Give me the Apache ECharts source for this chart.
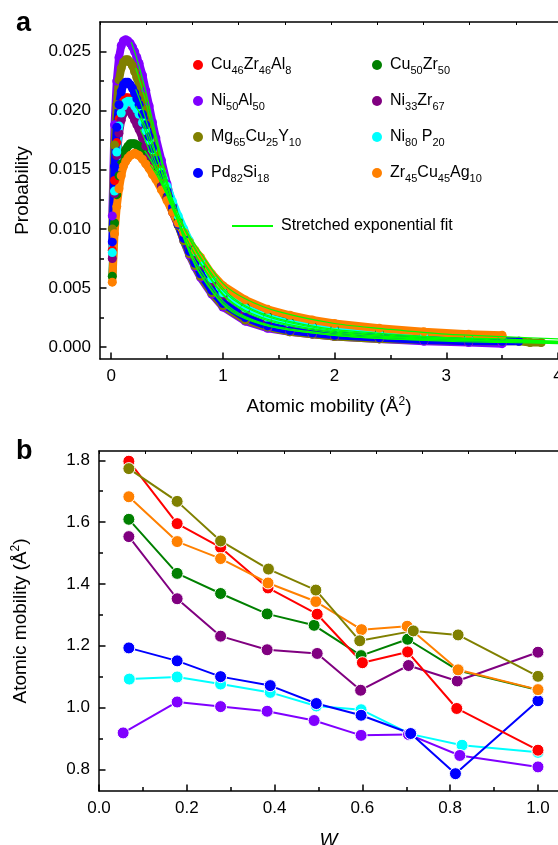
<!DOCTYPE html>
<html>
<head>
<meta charset="utf-8">
<title>Atomic mobility</title>
<script src="https://cdn.jsdelivr.net/npm/echarts@6.0.0/dist/echarts.min.js"></script>
<style>
html,body{margin:0;padding:0;background:#fff;}
#main{width:558px;height:845px;}
</style>
</head>
<body>
<div id="main"></div>
<script>
// ---- panel a : probability vs atomic mobility ----
var mobility = [0.01,0.03,0.05,0.07,0.09,0.11,0.13,0.15,0.17,0.19,0.21,0.23,0.25,0.28,0.31,0.34,0.37,0.40,0.45,0.50,0.55,0.60,0.65,0.70,0.75,0.80,0.90,1.00,1.20,1.40,1.60,1.80,2.00,2.40,2.80,3.20,3.50,3.65,3.75,3.85];
var probCu46Zr46Al8 = [0.0082,0.0141,0.0173,0.0193,0.0203,0.0208,0.0211,0.0211,0.0210,0.0207,0.0203,0.0198,0.0194,0.0187,0.0179,0.0171,0.0162,0.0153,0.0142,0.0130,0.0117,0.0105,0.0094,0.0084,0.0075,0.0067,0.0053,0.0042,0.0029,0.0021,0.0017,0.0014,0.0012,0.0009,0.0007,0.0006,0.0005,null,null,null];
var probNi50Al50 = [0.0111,0.0188,0.0225,0.0245,0.0255,0.0259,0.0260,0.0259,0.0257,0.0254,0.0250,0.0245,0.0240,0.0230,0.0217,0.0204,0.0190,0.0177,0.0158,0.0138,0.0120,0.0104,0.0090,0.0078,0.0068,0.0059,0.0045,0.0034,0.0022,0.0016,0.0013,0.0011,0.0009,0.0007,0.0005,0.0004,0.0003,null,null,null];
var probMg65Cu25Y10 = [0.0100,0.0171,0.0205,0.0226,0.0236,0.0241,0.0243,0.0243,0.0241,0.0238,0.0233,0.0228,0.0222,0.0212,0.0201,0.0189,0.0177,0.0165,0.0150,0.0134,0.0118,0.0103,0.0090,0.0079,0.0069,0.0060,0.0046,0.0035,0.0023,0.0017,0.0013,0.0011,0.0009,0.0007,0.0006,0.0005,0.0005,0.0005,0.0004,0.0004];
var probPd82Si18 = [0.0089,0.0153,0.0186,0.0205,0.0216,0.0222,0.0224,0.0224,0.0222,0.0219,0.0215,0.0210,0.0205,0.0197,0.0188,0.0178,0.0168,0.0158,0.0146,0.0132,0.0118,0.0104,0.0092,0.0081,0.0071,0.0062,0.0048,0.0037,0.0025,0.0018,0.0014,0.0012,0.0010,0.0008,0.0006,0.0005,0.0005,0.0005,null,null];
var probCu50Zr50 = [0.0060,0.0105,0.0129,0.0145,0.0155,0.0163,0.0167,0.0170,0.0172,0.0172,0.0172,0.0171,0.0170,0.0167,0.0163,0.0158,0.0153,0.0147,0.0137,0.0127,0.0117,0.0107,0.0098,0.0089,0.0080,0.0072,0.0058,0.0047,0.0034,0.0026,0.0021,0.0018,0.0015,0.0012,0.0009,0.0008,0.0007,null,null,null];
var probNi33Zr67 = [0.0075,0.0130,0.0162,0.0181,0.0192,0.0198,0.0200,0.0200,0.0199,0.0196,0.0192,0.0188,0.0184,0.0177,0.0170,0.0162,0.0154,0.0146,0.0136,0.0126,0.0114,0.0103,0.0093,0.0084,0.0075,0.0067,0.0054,0.0043,0.0030,0.0022,0.0017,0.0014,0.0012,0.0009,0.0007,0.0006,0.0005,null,null,null];
var probNi80P20 = [0.0080,0.0132,0.0165,0.0187,0.0198,0.0204,0.0207,0.0208,0.0208,0.0207,0.0204,0.0201,0.0197,0.0190,0.0183,0.0175,0.0167,0.0158,0.0148,0.0136,0.0123,0.0111,0.0100,0.0090,0.0081,0.0072,0.0058,0.0046,0.0033,0.0025,0.0020,0.0017,0.0014,0.0011,0.0009,0.0007,0.0006,null,null,null];
var probZr45Cu45Ag10 = [0.0055,0.0096,0.0119,0.0134,0.0145,0.0153,0.0157,0.0160,0.0162,0.0163,0.0164,0.0163,0.0162,0.0159,0.0155,0.0151,0.0146,0.0142,0.0133,0.0124,0.0114,0.0105,0.0097,0.0089,0.0082,0.0076,0.0062,0.0052,0.0040,0.0032,0.0027,0.0023,0.0020,0.0016,0.0013,0.0011,0.0010,null,null,null];

// stretched exponential fits
var fitMobility = [0.18,0.22,0.26,0.30,0.35,0.40,0.50,0.60,0.70,0.80,1.00,1.20,1.50,2.00,2.50,3.00,3.50,4.00,4.40];
var fitCu46Zr46Al8 = [null,null,0.0194,0.0184,0.0170,0.0156,0.0131,0.0107,0.0087,0.0070,0.0044,0.0030,0.0020,0.0012,0.0009,0.0007,0.0005,0.0004,0.0004];
var fitNi50Al50 = [0.0258,0.0247,0.0234,0.0220,0.0200,0.0180,0.0141,0.0106,0.0080,0.0061,0.0036,0.0024,0.0016,0.0010,0.0007,0.0005,0.0004,0.0003,0.0002];
var fitMg65Cu25Y10 = [null,0.0236,0.0224,0.0211,0.0193,0.0175,0.0138,0.0106,0.0081,0.0062,0.0037,0.0025,0.0016,0.0010,0.0007,0.0006,0.0005,0.0004,0.0003];
var fitPd82Si18 = [null,0.0218,0.0208,0.0196,0.0180,0.0164,0.0133,0.0106,0.0083,0.0065,0.0039,0.0026,0.0017,0.0011,0.0008,0.0006,0.0005,0.0004,0.0003];
var fitCu50Zr50 = [null,null,null,0.0166,0.0159,0.0150,0.0130,0.0110,0.0092,0.0076,0.0050,0.0035,0.0024,0.0015,0.0011,0.0008,0.0007,0.0005,0.0005];
var fitNi33Zr67 = [null,null,0.0184,0.0176,0.0164,0.0152,0.0128,0.0106,0.0087,0.0071,0.0045,0.0031,0.0021,0.0013,0.0009,0.0007,0.0005,0.0004,0.0004];
var fitNi80P20 = [null,0.0204,0.0197,0.0188,0.0175,0.0162,0.0137,0.0113,0.0092,0.0075,0.0048,0.0034,0.0023,0.0014,0.0010,0.0008,0.0006,0.0005,0.0004];
var fitZr45Cu45Ag10 = [null,null,null,null,0.0154,0.0147,0.0129,0.0110,0.0094,0.0080,0.0054,0.0041,0.0030,0.0020,0.0015,0.0011,0.0009,0.0007,0.0006];

// ---- panel b : atomic mobility vs W ----
var wCu46Zr46Al8 = [0.068,0.178,0.277,0.385,0.497,0.600,0.703,0.815,1.000];
var amCu46Zr46Al8 = [1.797,1.595,1.518,1.387,1.302,1.145,1.180,0.997,0.862];
var wNi50Al50 = [0.055,0.178,0.277,0.383,0.490,0.597,0.705,0.822,1.000];
var amNi50Al50 = [0.918,1.018,1.003,0.988,0.958,0.910,0.913,0.845,0.808];
var wMg65Cu25Y10 = [0.068,0.178,0.277,0.386,0.494,0.594,0.716,0.818,1.000];
var amMg65Cu25Y10 = [1.773,1.667,1.539,1.448,1.380,1.216,1.248,1.235,1.101];
var wPd82Si18 = [0.068,0.178,0.277,0.390,0.495,0.597,0.710,0.812,1.000];
var amPd82Si18 = [1.193,1.151,1.100,1.071,1.013,0.975,0.916,0.786,1.022];
var wCu50Zr50 = [0.068,0.178,0.277,0.383,0.490,0.597,0.703,0.818,1.000];
var amCu50Zr50 = [1.609,1.434,1.369,1.303,1.266,1.168,1.221,1.120,1.057];
var wNi33Zr67 = [0.068,0.178,0.277,0.383,0.497,0.596,0.705,0.816,1.000];
var amNi33Zr67 = [1.553,1.352,1.231,1.187,1.175,1.056,1.136,1.086,1.179];
var wNi80P20 = [0.069,0.178,0.277,0.390,0.495,0.597,0.710,0.827,1.000];
var amNi80P20 = [1.092,1.099,1.076,1.049,1.005,0.993,0.914,0.878,0.855];
var wZr45Cu45Ag10 = [0.068,0.178,0.277,0.385,0.494,0.598,0.702,0.818,1.000];
var amZr45Cu45Ag10 = [1.682,1.537,1.482,1.403,1.343,1.252,1.263,1.122,1.058];

// ---- ticks ----
var probTicks = [0, 0.005, 0.010, 0.015, 0.020, 0.025];
var probMinorTicks = [0.0025, 0.0075, 0.0125, 0.0175, 0.0225];
var mobilityTicks = [0, 1, 2, 3, 4];
var mobilityMinorTicks = [0.5, 1.5, 2.5, 3.5];
var amTicks = [0.8, 1.0, 1.2, 1.4, 1.6, 1.8];
var amMinorTicks = [0.9, 1.1, 1.3, 1.5, 1.7];
var wTicks = [0, 0.2, 0.4, 0.6, 0.8, 1.0];
var wMinorTicks = [0.1, 0.3, 0.5, 0.7, 0.9];

var FONT = 'Liberation Sans, Arial, Helvetica, sans-serif';
var FIT_NAME = 'Stretched exponential fit';

var alloys = {
	'Cu46Zr46Al8': {color: '#ff0000', prob: probCu46Zr46Al8, fit: fitCu46Zr46Al8, w: wCu46Zr46Al8, am: amCu46Zr46Al8},
	'Ni50Al50': {color: '#8000ff', prob: probNi50Al50, fit: fitNi50Al50, w: wNi50Al50, am: amNi50Al50},
	'Mg65Cu25Y10': {color: '#808000', prob: probMg65Cu25Y10, fit: fitMg65Cu25Y10, w: wMg65Cu25Y10, am: amMg65Cu25Y10},
	'Pd82Si18': {color: '#0000ff', prob: probPd82Si18, fit: fitPd82Si18, w: wPd82Si18, am: amPd82Si18},
	'Cu50Zr50': {color: '#008000', prob: probCu50Zr50, fit: fitCu50Zr50, w: wCu50Zr50, am: amCu50Zr50},
	'Ni33Zr67': {color: '#800080', prob: probNi33Zr67, fit: fitNi33Zr67, w: wNi33Zr67, am: amNi33Zr67},
	'Ni80 P20': {color: '#00ffff', prob: probNi80P20, fit: fitNi80P20, w: wNi80P20, am: amNi80P20},
	'Zr45Cu45Ag10': {color: '#ff8000', prob: probZr45Cu45Ag10, fit: fitZr45Cu45Ag10, w: wZr45Cu45Ag10, am: amZr45Cu45Ag10}
};
var orderA = ['Cu46Zr46Al8','Cu50Zr50','Ni50Al50','Ni33Zr67','Mg65Cu25Y10','Ni80 P20','Pd82Si18','Zr45Cu45Ag10'];
var orderB = ['Ni80 P20','Ni50Al50','Pd82Si18','Cu50Zr50','Ni33Zr67','Cu46Zr46Al8','Zr45Cu45Ag10','Mg65Cu25Y10'];

// plot rects (px); the right frame edge sits on the page border
var GRID_A = {left: 100, top: 22, width: 458, height: 337};
var GRID_B = {left: 99, top: 451, width: 459, height: 340};
var TOP_TICK_STEP = 46.2;

function pairs(xs, ys) {
	var out = [];
	for (var i = 0; i < xs.length; i++) {
		if (ys[i] != null) out.push([xs[i], ys[i]]);
	}
	return out;
}

var subRich = {s: {fontSize: 11, fontFamily: FONT, color: '#000', padding: [12, 0, 0, 0]}};
var supRich = {sup: {fontSize: 12, fontFamily: FONT, color: '#000', padding: [0, 0, 9, 0]}};

// main axis: ticks + labels at custom values
function mainAxis(grid, pos, min, max, ticks, fmt, name, gap, nameStyle) {
	return {
		type: 'value', gridIndex: grid, position: pos, min: min, max: max,
		name: name, nameLocation: 'middle', nameGap: gap,
		nameTextStyle: nameStyle,
		axisLine: {show: true, onZero: false, lineStyle: {color: '#000', width: 1.5}},
		axisTick: {show: true, inside: true, length: 6.5, customValues: ticks, lineStyle: {color: '#000', width: 1.5}},
		axisLabel: {show: true, customValues: ticks, formatter: fmt, margin: 9, color: '#000', fontSize: 17, fontFamily: FONT},
		splitLine: {show: false}
	};
}
// minor ticks, drawn on the same edge
function minorAxis(grid, pos, min, max, ticks) {
	return {
		type: 'value', gridIndex: grid, position: pos, min: min, max: max,
		axisLine: {show: false, onZero: false},
		axisTick: {show: true, inside: true, length: 4, customValues: ticks, lineStyle: {color: '#000', width: 1.5}},
		axisLabel: {show: false},
		splitLine: {show: false}
	};
}
// plain top frame with small ticks
function topAxis(grid, max) {
	return {
		type: 'value', gridIndex: grid, position: 'top', min: 0, max: max, interval: 1,
		axisLine: {show: true, onZero: false, lineStyle: {color: '#000', width: 1.5}},
		axisTick: {show: true, inside: true, length: 3, lineStyle: {color: '#000', width: 1}},
		axisLabel: {show: false},
		splitLine: {show: false}
	};
}

var nameStyle = {fontSize: 19, fontFamily: FONT, color: '#000', rich: supRich};

var series = [];
orderA.forEach(function (n) {
	var a = alloys[n];
	series.push({
		name: n, type: 'line', xAxisIndex: 0, yAxisIndex: 0,
		data: pairs(mobility, a.prob),
		symbol: 'circle', symbolSize: 9, showSymbol: true,
		itemStyle: {color: a.color},
		lineStyle: {color: a.color, width: 8, cap: 'round', join: 'round'},
		z: 2
	});
});
orderA.forEach(function (n) {
	series.push({
		name: FIT_NAME, type: 'line', xAxisIndex: 0, yAxisIndex: 0,
		data: pairs(fitMobility, alloys[n].fit),
		smooth: 0.3, showSymbol: false, symbol: 'none',
		itemStyle: {color: '#00ff00'},
		lineStyle: {color: '#00ff00', width: 1.2},
		z: 3
	});
});
orderB.forEach(function (n) {
	var a = alloys[n];
	series.push({
		name: n, type: 'line', xAxisIndex: 3, yAxisIndex: 2,
		data: pairs(a.w, a.am),
		symbol: 'circle', symbolSize: 12, showSymbol: true,
		itemStyle: {color: a.color, borderColor: '#fff', borderWidth: 1},
		lineStyle: {color: a.color, width: 2},
		z: 2
	});
});

var legendBase = {
	orient: 'vertical', selectedMode: false, padding: 0,
	icon: 'circle', itemWidth: 10, itemHeight: 10, itemGap: 16.5,
	textStyle: {fontSize: 16, fontFamily: FONT, color: '#000', padding: [0, 0, 0, 3], rich: subRich},
	formatter: function (name) { return name.replace(/(\d+)/g, '{s|$1}'); }
};

var option = {
	animation: false,
	backgroundColor: '#fff',
	textStyle: {fontFamily: FONT},
	title: [
		{text: 'a', left: 11, top: 5, textStyle: {fontSize: 27, fontWeight: 'bold', color: '#000', fontFamily: FONT}},
		{text: 'b', left: 11, top: 433, textStyle: {fontSize: 27, fontWeight: 'bold', color: '#000', fontFamily: FONT}}
	],
	grid: [
		echarts.util.extend({outerBoundsMode: 'none'}, GRID_A),
		echarts.util.extend({outerBoundsMode: 'none'}, GRID_B)
	],
	legend: [
		echarts.util.extend({data: ['Cu46Zr46Al8', 'Ni50Al50', 'Mg65Cu25Y10', 'Pd82Si18'], left: 193, top: 57}, legendBase),
		echarts.util.extend({data: ['Cu50Zr50', 'Ni33Zr67', 'Ni80 P20', 'Zr45Cu45Ag10'], left: 372, top: 57}, legendBase),
		{data: [FIT_NAME], selectedMode: false, padding: 0, left: 232, top: 218, icon: 'rect', itemWidth: 41, itemHeight: 2,
			textStyle: {fontSize: 16, fontFamily: FONT, color: '#000', padding: [0, 0, 0, 3]}}
	],
	xAxis: [
		mainAxis(0, 'bottom', -0.1, 4.0, mobilityTicks, function (v) { return String(v); }, 'Atomic mobility (Å{sup|2})', 37, nameStyle),
		minorAxis(0, 'bottom', -0.1, 4.0, mobilityMinorTicks),
		topAxis(0, GRID_A.width / TOP_TICK_STEP),
		mainAxis(1, 'bottom', 0, 1.0456, wTicks, function (v) { return v.toFixed(1); }, 'W', 40,
			{fontSize: 19, fontFamily: FONT, color: '#000', fontStyle: 'italic'}),
		minorAxis(1, 'bottom', 0, 1.0456, wMinorTicks),
		topAxis(1, GRID_B.width / TOP_TICK_STEP)
	],
	yAxis: [
		mainAxis(0, 'left', -0.001, 0.0275, probTicks, function (v) { return v.toFixed(3); }, 'Probability', 68, nameStyle),
		minorAxis(0, 'left', -0.001, 0.0275, probMinorTicks),
		mainAxis(1, 'left', 0.73, 1.83, amTicks, function (v) { return v.toFixed(1); }, 'Atomic mobility (Å{sup|2})', 68, nameStyle),
		minorAxis(1, 'left', 0.73, 1.83, amMinorTicks)
	],
	series: series
};

var chart = echarts.init(document.getElementById('main'));
chart.setOption(option);
</script>
</body>
</html>
